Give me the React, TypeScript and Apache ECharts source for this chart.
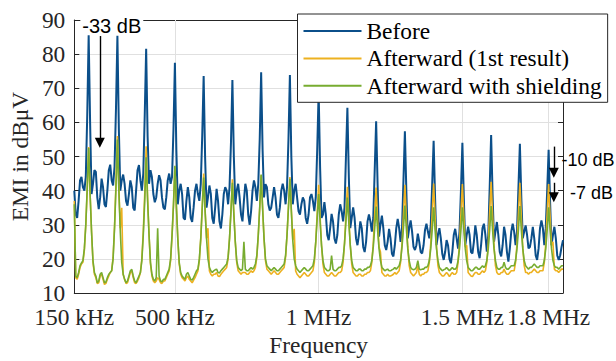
import React, { useEffect, useRef } from 'react';
import * as echarts from 'echarts';

// Sampling grid of the spectra (kHz)
const FREQ_START_KHZ = 150;
const FREQ_STEP_KHZ = 5;
const X_MIN = 150;
const X_MAX = 1850;
const Y_MIN = 10;
const Y_MAX = 90;
const Y_STEP = 10;

const X_TICKS = [150, 500, 1000, 1500, 1800];
const X_TICK_LABELS = ['150 kHz', '500 kHz', '1 MHz', '1.5 MHz', '1.8 MHz'];
const X_GRID = [500, 1000, 1500, 1800];

const SERIES_NAMES = ['Before', 'Afterward (1st result)', 'Afterward with shielding'];

// EMI in dBuV, 150 kHz .. 1850 kHz every 5 kHz
const BEFORE = [
  40, 33, 32, 37, 43, 44, 41, 40, 44, 62,
  85.5, 60, 39, 42, 46, 45.5, 38, 34.6, 38, 43.5, 41, 36, 35.2, 40, 46, 47.6, 43, 41.5, 47, 64,
  85.4, 58, 40, 43, 44.7, 42, 37, 35.6, 39, 43, 41, 35, 34.2, 40, 46, 47.5, 43, 40, 45, 62,
  81.6, 56, 42, 46, 44, 39, 36.6, 38, 42, 44.5, 43, 38, 35, 34.5, 38, 43, 45, 42, 44, 58,
  77.5, 52, 36, 40, 42, 39, 32, 31.5, 37, 41, 38, 32, 30.8, 35, 40, 42, 39, 37, 42, 56,
  73.6, 50, 35, 38, 41.5, 39, 32, 30.3, 35, 40.5, 37, 31, 28.9, 33, 39, 41, 40, 36, 41, 54,
  72.4, 50, 36, 40, 42, 38, 33, 31, 37, 42, 40, 33, 30, 34, 40, 43, 41, 37, 42, 55,
  74.7, 52, 38, 41.9, 41, 36, 34.2, 35, 38, 41, 38, 33, 32, 35, 40, 42, 40, 36, 41, 55,
  73.9, 50, 36, 40, 42, 38, 34, 33, 36, 38, 37, 32, 30.3, 33, 38, 39, 37, 34, 38, 52,
  69, 47, 32, 33, 36.6, 33, 27, 25.5, 29, 33.2, 31, 26, 24.5, 27, 33, 36, 34, 31, 35, 50,
  64.3, 44, 29, 32, 35.1, 32, 26, 24, 27, 31, 29, 23.5, 22, 25, 31, 33, 31, 28, 32, 46,
  60.3, 42, 26.5, 30, 32.7, 29, 24, 22.6, 25, 28.8, 26, 21.5, 20.7, 24, 29, 31.7, 29, 25, 29, 43,
  57.4, 40, 26, 29, 31.3, 28, 23.5, 22.6, 24, 27.4, 25, 22, 21.6, 24, 28.5, 30.3, 28, 26, 30, 42,
  54.6, 38, 24, 27, 29, 26, 21.5, 19.7, 22, 25.5, 24, 20, 18.7, 22, 27, 28.8, 26, 23, 28, 40,
  54, 38, 24, 27, 29.4, 27, 22, 21.6, 25, 29.8, 27, 22, 20.2, 24, 29, 30.3, 27, 22.1, 27, 41,
  56.3, 39, 25, 28, 30.8, 27, 22, 20.7, 24, 29.4, 27, 22, 19.2, 23, 28, 30.3, 28, 24, 28, 41,
  53.7, 38, 26, 28, 29.8, 27, 23.1, 23.5, 26, 29.4, 26, 21, 19.7, 23, 29, 31.3, 29, 24, 29, 40,
  52, 37, 24, 27, 29.4, 26, 21, 19.7, 21, 23.5, 25.5,
];

const AFTER_FIRST = [
  37, 14.5, 14, 15.5, 17.5, 18.5, 19, 22.5, 30, 40,
  52.8, 39, 28, 19, 15.5, 14.5, 12.8, 13, 15, 15.5, 14, 12.5, 12.8, 14, 15, 16, 16.5, 20.5, 29.5, 42,
  56, 41, 29, 35, 15.5, 14, 12.8, 13, 14.5, 16, 16.5, 14.5, 13, 12.8, 13.5, 14.5, 16, 20, 28, 39,
  53, 38, 27, 18.5, 15, 13.5, 13, 13.5, 14.5, 14, 13, 12.8, 13.5, 13.5, 14.5, 15.5, 16.5, 19.5, 26.5, 35.5,
  47, 35.5, 26, 18.5, 15.5, 14.5, 14, 13.5, 14.5, 15, 14, 13.5, 13, 13.8, 14.5, 15.5, 16.5, 19.5, 26, 35,
  45, 34.5, 26, 29, 16.5, 15.5, 15, 15.5, 15.5, 16, 15, 14.8, 15.5, 16, 16.5, 17, 17.5, 20, 26, 34,
  43.3, 33.5, 25, 19, 16.5, 16, 15.5, 16, 16, 16, 15.5, 15.5, 16, 16.5, 16, 16.5, 17.5, 20.5, 27, 35,
  44.5, 35, 26, 19.5, 17, 16.5, 16, 15.5, 16, 16.5, 16, 15.5, 15.5, 16, 16.5, 17, 17.5, 20.5, 27, 35.5,
  44, 34.5, 25.5, 28.8, 16.5, 15.5, 15, 14.5, 15, 15.5, 16, 15.5, 15, 15, 15.5, 16, 16.5, 19, 25, 33.5,
  41.7, 32.5, 24, 18.5, 16, 15.5, 15, 15, 15.5, 16, 15.5, 15, 15, 15.5, 16, 16, 16.5, 19, 24.5, 33,
  41.1, 32, 24, 18.5, 16, 15.5, 15, 15, 15.5, 15.5, 15, 15, 15.5, 15.5, 16, 16, 16.5, 19, 24.5, 33,
  40.9, 31.5, 23.5, 22, 16, 15.5, 15, 15, 15.5, 15, 15, 15.2, 15.5, 16, 15.5, 16, 16.5, 19, 24.5, 33,
  41.7, 32, 23.5, 18, 16, 15.5, 15, 15.5, 16, 18, 15.5, 15, 15.5, 15.5, 16, 16, 16.5, 19, 24.5, 33.5,
  42.1, 32.5, 23.5, 18, 16, 15.5, 15, 15, 15.5, 16, 15.5, 14.8, 15.5, 16, 15.5, 15.5, 16, 19, 24.5, 33.5,
  41.9, 32.5, 23.5, 24, 16, 15.5, 15, 14.8, 15.5, 16, 16, 15.5, 15.5, 16, 16.5, 16, 16.5, 19, 24.5, 34,
  42.6, 33, 24, 18, 16, 15.5, 15.5, 16, 16, 17, 16, 15.5, 15.5, 16, 16.5, 16.5, 16.5, 19, 24.5, 33.5,
  42.3, 32.5, 23.5, 18, 16, 16, 15.5, 16, 16, 16.5, 17, 16.5, 16, 16, 16.5, 16.5, 16.5, 19, 24.5, 33.5,
  41.9, 32.5, 24, 25, 17, 16.5, 16.5, 16, 16.5, 17, 17,
];

const AFTER_SHIELDING = [
  36, 15, 14.5, 16, 18, 18.8, 19.5, 23, 30, 41,
  52.5, 39, 28, 19.5, 16, 15, 13, 13.5, 15.5, 16, 14.5, 13, 13.2, 14.5, 15.5, 16, 16.5, 20, 29, 41,
  55, 40, 28, 19, 15.5, 14, 13, 13.5, 15, 16.5, 16.9, 15, 13.5, 13, 14, 15, 16, 19.5, 27, 37,
  49.8, 37, 27, 19, 15.5, 14, 13.5, 14.5, 29, 15, 13.5, 13.3, 14, 14, 15, 16, 17, 20, 27, 36,
  47.3, 36, 26, 19, 16, 15, 14.5, 14, 15.5, 16, 15, 14, 13.8, 14.5, 15.5, 16.5, 17, 20, 26, 35,
  43.8, 34, 26, 20, 17.5, 16.5, 16, 16.5, 16.8, 17, 16, 15.9, 16.5, 17, 17.5, 18, 18.5, 20.5, 26, 34,
  42.3, 33, 25, 19.5, 17.5, 17, 16.5, 17, 25, 17, 16.5, 16.5, 17, 17.5, 17, 17.5, 18.5, 21, 27, 35,
  44.7, 35, 26, 20, 18, 17.5, 17, 16.5, 17, 17.5, 17, 16.5, 16.5, 17, 17.5, 18, 18.5, 21, 27, 35,
  43.5, 34, 25.5, 20, 18, 17, 16.5, 16, 16.5, 17, 17.5, 17, 16.5, 16.5, 17, 17.5, 18, 20, 25, 32,
  39, 31, 24, 19.5, 17.5, 17, 16.5, 16.5, 17, 21, 17, 16.5, 16.5, 17, 17.5, 17.5, 18, 20, 24.5, 31,
  38, 30.5, 24, 19.5, 17.5, 17, 16.5, 16.5, 17, 17, 16.5, 16.5, 17, 17, 17.5, 17.5, 18, 19.5, 23.5, 29,
  35.3, 28.5, 23, 19.5, 17.5, 17, 16.5, 16.8, 17, 16.5, 16.5, 16.8, 17, 17.5, 17, 17.5, 18, 19.5, 23.5, 29,
  35.6, 29, 23, 19.5, 17.5, 17, 16.8, 17, 17.5, 19.5, 17, 16.8, 17, 17, 17.5, 17.5, 18, 19.5, 23, 28.5,
  35.1, 28.5, 23, 19.5, 17.5, 17, 16.5, 16.8, 17, 17.5, 17, 16.5, 17, 17.5, 17, 17, 17.5, 19.5, 23, 28.5,
  35.1, 28.5, 23, 19.5, 17.5, 17, 16.5, 16.5, 17, 17.5, 17.5, 17, 17, 17.5, 18, 17.5, 18, 19.5, 23, 28.5,
  35.5, 28.5, 23, 19.5, 17.5, 17, 17, 17.5, 17.5, 19, 17.5, 17, 17, 17.5, 18, 18, 18, 19.5, 23, 28.5,
  35.5, 28.5, 23, 19.5, 18, 17.5, 17, 17.5, 17.5, 18, 18.5, 18, 17.5, 17.5, 18, 18, 18, 19.5, 23, 28.5,
  35.1, 28.5, 23, 19.5, 18, 17.5, 17.5, 17, 17.5, 18, 18,
];

// Annotation arrows: frequency (kHz), start level, tip level (dBuV)
const ARROW_FREQ = [238.7, 1818, 1818];
const ARROW_FROM = [85.3, 52.9, 42.3];
const ARROW_TIP = [52.6, 43.8, 36.6];
const ARROW_HEAD_HALF_DB = 1.45;

const COLORS = ['#0B4F8A', '#EDB120', '#77AC30'];

const toPairs = (vals: number[]) =>
  vals.map((v, i) => [FREQ_START_KHZ + i * FREQ_STEP_KHZ, v]);

export default function App() {
  const ref = useRef<HTMLDivElement>(null);

  useEffect(() => {
    if (!ref.current) return;
    const chart = echarts.init(ref.current, null, { renderer: 'svg' });
    const axisColor = '#262626';
    const gridColor = '#e0e0e0';
    const serif = '"Liberation Serif", "Times New Roman", serif';
    const sans = '"Liberation Sans", Arial, sans-serif';
    const fs = 23.4;

    const option: any = {
      animation: false,
      grid: { left: 71, right: 53, top: 20, bottom: 64, containLabel: false },
      xAxis: [
        {
          type: 'value',
          min: X_MIN,
          max: X_MAX,
          position: 'bottom',
          name: 'Frequency',
          nameLocation: 'middle',
          nameGap: 40,
          nameTextStyle: { fontFamily: serif, fontSize: fs, color: axisColor },
          axisLine: { show: true, lineStyle: { color: axisColor, width: 1 } },
          axisTick: { show: true, inside: true, length: 5, customValues: X_TICKS, lineStyle: { color: axisColor } },
          axisLabel: {
            customValues: X_TICKS,
            formatter: (v: number) => X_TICK_LABELS[X_TICKS.indexOf(v)] ?? '',
            fontFamily: serif,
            fontSize: fs,
            lineHeight: 16,
            color: axisColor,
            margin: 15.5,
          },
          splitLine: { show: false },
        },
        {
          type: 'value',
          min: X_MIN,
          max: X_MAX,
          position: 'top',
          axisLine: { show: true, lineStyle: { color: axisColor, width: 1 } },
          axisTick: { show: true, inside: true, length: 5, customValues: X_TICKS, lineStyle: { color: axisColor } },
          axisLabel: { show: false },
          splitLine: { show: false },
        },
      ],
      yAxis: [
        {
          type: 'value',
          min: Y_MIN,
          max: Y_MAX,
          interval: Y_STEP,
          name: 'EMI in dBμV',
          nameLocation: 'middle',
          nameGap: 42,
          nameTextStyle: { fontFamily: serif, fontSize: fs, color: axisColor },
          axisLine: { show: true, lineStyle: { color: axisColor, width: 1 } },
          axisTick: { show: true, inside: true, length: 5, lineStyle: { color: axisColor } },
          axisLabel: { fontFamily: serif, fontSize: fs, lineHeight: 16, color: axisColor, margin: 9 },
          splitLine: { show: true, lineStyle: { color: gridColor, width: 1 } },
        },
        {
          type: 'value',
          min: Y_MIN,
          max: Y_MAX,
          interval: Y_STEP,
          position: 'right',
          axisLine: { show: true, lineStyle: { color: axisColor, width: 1 } },
          axisTick: { show: true, inside: true, length: 5, lineStyle: { color: axisColor } },
          axisLabel: { show: false },
          splitLine: { show: false },
        },
      ],
      legend: {
        show: true,
        data: SERIES_NAMES.map((n) => ({ name: n, icon: 'rect' })),
        orient: 'vertical',
        left: 297.5,
        top: 14,
        padding: [5.5, 6, 5, 6],
        itemGap: 4.4,
        itemWidth: 58,
        itemHeight: 2,
        backgroundColor: '#ffffff',
        borderColor: '#262626',
        borderWidth: 1,
        selectedMode: false,
        z: 10,
        textStyle: { fontFamily: serif, fontSize: fs, color: '#000' },
      },
      series: [
        {
          name: '_grid',
          type: 'line',
          data: [],
          silent: true,
          z: 1,
          markLine: {
            silent: true,
            z: 1,
            symbol: ['none', 'none'],
            label: { show: false },
            lineStyle: { color: gridColor, width: 1, type: 'solid' },
            emphasis: { disabled: true },
            data: X_GRID.map((x) => ({ xAxis: x })),
          },
        },
        {
          name: SERIES_NAMES[0],
          type: 'line',
          data: toPairs(BEFORE),
          symbol: 'none',
          z: 2,
          lineStyle: { color: COLORS[0], width: 2 },
          itemStyle: { color: COLORS[0] },
        },
        {
          name: SERIES_NAMES[1],
          type: 'line',
          data: toPairs(AFTER_FIRST),
          symbol: 'none',
          z: 3,
          lineStyle: { color: COLORS[1], width: 1.6 },
          itemStyle: { color: COLORS[1] },
        },
        {
          name: SERIES_NAMES[2],
          type: 'line',
          data: toPairs(AFTER_SHIELDING),
          symbol: 'none',
          z: 4,
          lineStyle: { color: COLORS[2], width: 1.6 },
          itemStyle: { color: COLORS[2] },
        },
        {
          name: '_arrows',
          type: 'line',
          data: [],
          silent: true,
          z: 6,
          markLine: {
            silent: true,
            z: 6,
            symbol: ['none', 'triangle'],
            symbolSize: 10,
            label: { show: false },
            lineStyle: { color: '#000', width: 1.4, type: 'solid' },
            emphasis: { disabled: true },
            data: ARROW_FREQ.map((f, i) => [
              { coord: [f, ARROW_FROM[i]] },
              { coord: [f, ARROW_TIP[i] + ARROW_HEAD_HALF_DB] },
            ]),
          },
        },
      ],
      graphic: [
        {
          type: 'text',
          x: 111.8,
          y: 26,
          z: 100,
          style: {
            text: '-33 dB',
            fontFamily: sans,
            fontSize: 20,
            fill: '#000',
            align: 'center',
            verticalAlign: 'middle',
            backgroundColor: '#fff',
            lineHeight: 16,
            padding: [0, 2],
          },
        },
        {
          type: 'text',
          x: 561.5,
          y: 159.5,
          z: 100,
          style: {
            text: '-10 dB',
            fontFamily: sans,
            fontSize: 18,
            fill: '#000',
            align: 'left',
            verticalAlign: 'middle',
          },
        },
        {
          type: 'text',
          x: 570,
          y: 192.7,
          z: 100,
          style: {
            text: '-7 dB',
            fontFamily: sans,
            fontSize: 18,
            fill: '#000',
            align: 'left',
            verticalAlign: 'middle',
          },
        },
      ],
    };

    chart.setOption(option);
    return () => {
      chart.dispose();
    };
  }, []);

  return (
    <div
      ref={ref}
      style={{ position: 'fixed', left: 0, top: 0, width: 616, height: 361, background: '#fff' }}
    />
  );
}
